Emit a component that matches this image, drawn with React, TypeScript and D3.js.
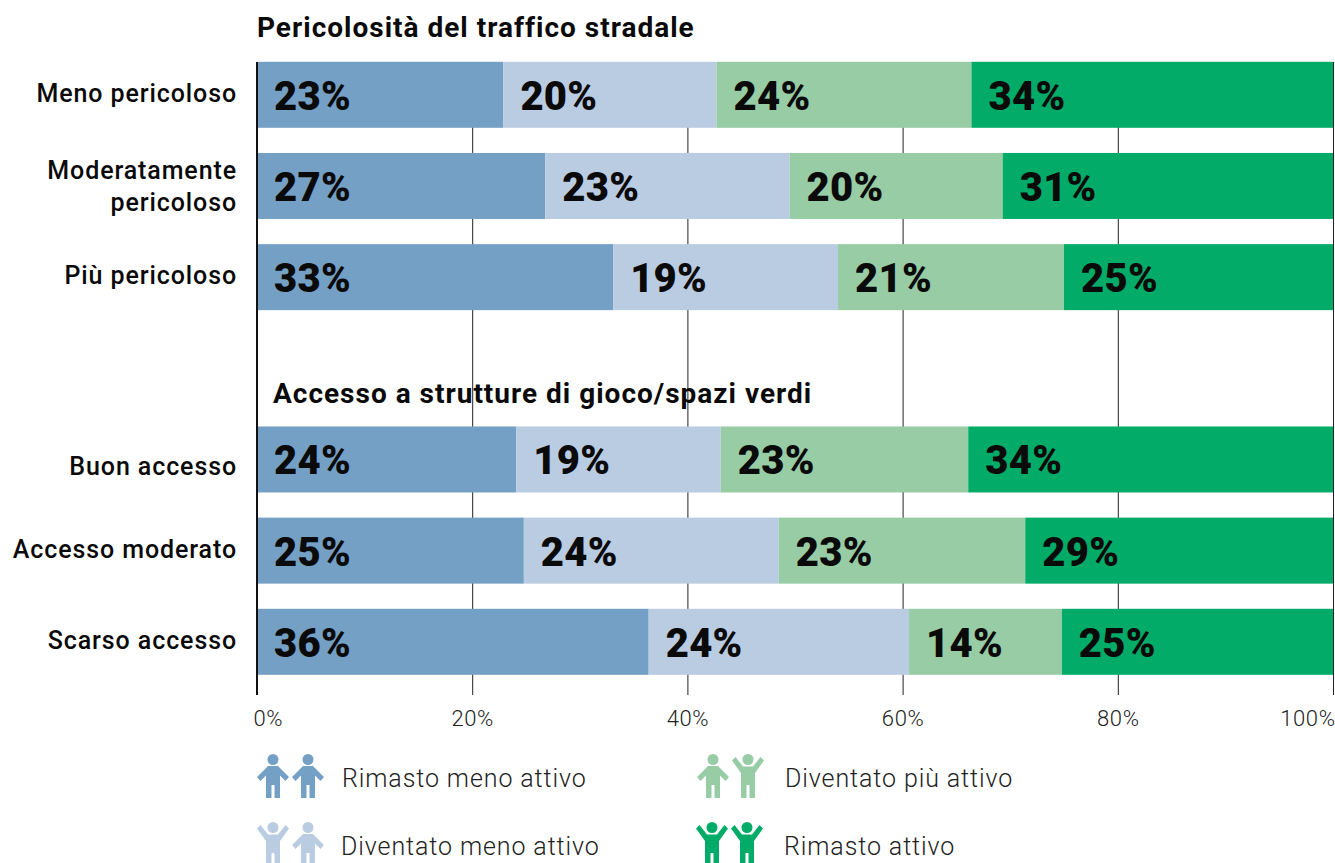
import React, { useEffect, useRef } from 'react';
import { select, scaleLinear, scaleBand, axisBottom } from 'd3';

const rows = ['Meno pericoloso', 'Moderatamente pericoloso', 'Più pericoloso', '_gap', 'Buon accesso', 'Accesso moderato', 'Scarso accesso'];
const rowLabels = [['Meno pericoloso'], ['Moderatamente', 'pericoloso'], ['Più pericoloso'], [], ['Buon accesso'], ['Accesso moderato'], ['Scarso accesso']];
const lessActiveStay = [22.9, 26.8, 33.1, 0, 24.1, 24.8, 36.4];
const lessActiveBecame = [19.8, 22.7, 20.9, 0, 19, 23.7, 24.2];
const moreActiveBecame = [23.7, 19.8, 21, 0, 23, 22.9, 14.2];
const stayActive = [33.6, 30.7, 25, 0, 33.8, 28.6, 25.2];
const printedLabels = [
  ['23%', '20%', '24%', '34%'],
  ['27%', '23%', '20%', '31%'],
  ['33%', '19%', '21%', '25%'],
  [],
  ['24%', '19%', '23%', '34%'],
  ['25%', '24%', '23%', '29%'],
  ['36%', '24%', '14%', '25%'],
];
const colors = ['#74a0c6', '#bacce2', '#97cca5', '#03ab68'];
const xTicks = [0, 20, 40, 60, 80, 100];
const font = 'Roboto, sans-serif';

// little figures for the legend, 44px tall, origin at top centre
const bodyDown = 'M-5 12 L5 12 L16 23 L12.5 27 L7 21.5 L7 44 L1.5 44 L1.5 31 L-1.5 31 L-1.5 44 L-7 44 L-7 21.5 L-12.5 27 L-16 23 Z';
const bodyUp = 'M-5 12.5 L5 12.5 L12.5 3 L16 6.5 L7 19 L7 44 L1.5 44 L1.5 31 L-1.5 31 L-1.5 44 L-7 44 L-7 19 L-16 6.5 L-12.5 3 Z';

const legend = [
  { label: 'Rimasto meno attivo', color: colors[0], poses: ['down', 'down'], x: 273, y: 754, textX: 342 },
  { label: 'Diventato meno attivo', color: colors[1], poses: ['up', 'down'], x: 273, y: 822, textX: 341 },
  { label: 'Diventato più attivo', color: colors[2], poses: ['down', 'up'], x: 713, y: 754, textX: 785 },
  { label: 'Rimasto attivo', color: colors[3], poses: ['up', 'up'], x: 712, y: 822, textX: 784 },
];

const App = () => {
  const svgRef = useRef<SVGSVGElement>(null);

  useEffect(() => {
    const svg = select(svgRef.current);
    svg.selectAll('*').remove();

    const x = scaleLinear().domain([0, 100]).range([257, 1333]);
    const y = scaleBand().domain(rows).range([61.8, 674.8]).paddingInner(0.276).paddingOuter(0);

    // grid sits behind the bars
    const axis = svg.append('g')
      .attr('transform', 'translate(0,695)')
      .call(axisBottom(x).tickValues(xTicks).tickSize(-633).tickFormat(d => d + '%'));
    axis.select('.domain').remove();
    axis.selectAll('line').attr('stroke', '#222').attr('stroke-width', 1);
    axis.selectAll('.tick').filter(d => d === 0).select('line').remove();
    axis.selectAll('text')
      .attr('y', 31)
      .attr('dy', 0)
      .attr('font-family', font)
      .attr('font-weight', 300)
      .attr('font-size', 22)
      .attr('letter-spacing', 0.6)
      .attr('fill', '#222');
    axis.selectAll('.tick').filter(d => d === 0).select('text').attr('text-anchor', 'start').attr('x', -4);
    axis.selectAll('.tick').filter(d => d === 100).select('text').attr('text-anchor', 'end').attr('x', 2);

    const series = [lessActiveStay, lessActiveBecame, moreActiveBecame, stayActive];
    rows.forEach((row, i) => {
      if (row === '_gap') return;
      const rowY = y(row);
      let cum = 0;
      series.forEach((s, j) => {
        const x0 = x(cum);
        cum = j === 3 ? 100 : cum + s[i];
        svg.append('rect')
          .attr('x', x0)
          .attr('y', rowY)
          .attr('width', x(cum) - x0)
          .attr('height', y.bandwidth())
          .attr('fill', colors[j]);
        svg.append('text')
          .attr('x', x0 + 17)
          .attr('y', rowY + 48)
          .attr('font-family', font)
          .attr('font-weight', 900)
          .attr('font-size', 40)
          .attr('letter-spacing', 0.3)
          .attr('fill', '#0a0a0a')
          .text(printedLabels[i][j]);
      });

      const lines = rowLabels[i];
      // "Buon accesso" sits lower than its row centre in the original
      const startY = rowY + (lines.length > 1 ? 26 : row === 'Buon accesso' ? 49 : 40);
      lines.forEach((t, k) => {
        svg.append('text')
          .attr('x', 237)
          .attr('y', startY + k * 32)
          .attr('text-anchor', 'end')
          .attr('font-family', font)
          .attr('font-weight', 500)
          .attr('font-size', 25)
          .attr('letter-spacing', 0.9)
          .attr('fill', '#0a0a0a')
          .text(t);
      });
    });

    const titles = [
      { text: 'Pericolosità del traffico stradale', x: 257, y: 37 },
      { text: 'Accesso a strutture di gioco/spazi verdi', x: 273, y: 403 },
    ];
    titles.forEach(t => {
      svg.append('text')
        .attr('x', t.x)
        .attr('y', t.y)
        .attr('font-family', font)
        .attr('font-weight', 700)
        .attr('font-size', 28)
        .attr('letter-spacing', 1)
        .attr('fill', '#0a0a0a')
        .text(t.text);
    });

    svg.append('line')
      .attr('x1', x(0)).attr('x2', x(0))
      .attr('y1', 62).attr('y2', 695)
      .attr('stroke', '#111')
      .attr('stroke-width', 2);

    legend.forEach(l => {
      l.poses.forEach((pose, k) => {
        const g = svg.append('g')
          .attr('transform', `translate(${l.x + k * 35},${l.y})`)
          .attr('fill', l.color);
        g.append('circle').attr('cx', 0).attr('cy', 5.5).attr('r', 5.5);
        g.append('path').attr('d', pose === 'up' ? bodyUp : bodyDown);
      });
      svg.append('text')
        .attr('x', l.textX)
        .attr('y', l.y + 33)
        .attr('font-family', font)
        .attr('font-weight', 300)
        .attr('font-size', 25)
        .attr('letter-spacing', 0.9)
        .attr('fill', '#222')
        .text(l.label);
    });
  }, []);

  return <svg ref={svgRef} width={1335} height={863} style={{ position: 'absolute', left: 0, top: 0, background: '#fff' }} />;
};

export default App;
